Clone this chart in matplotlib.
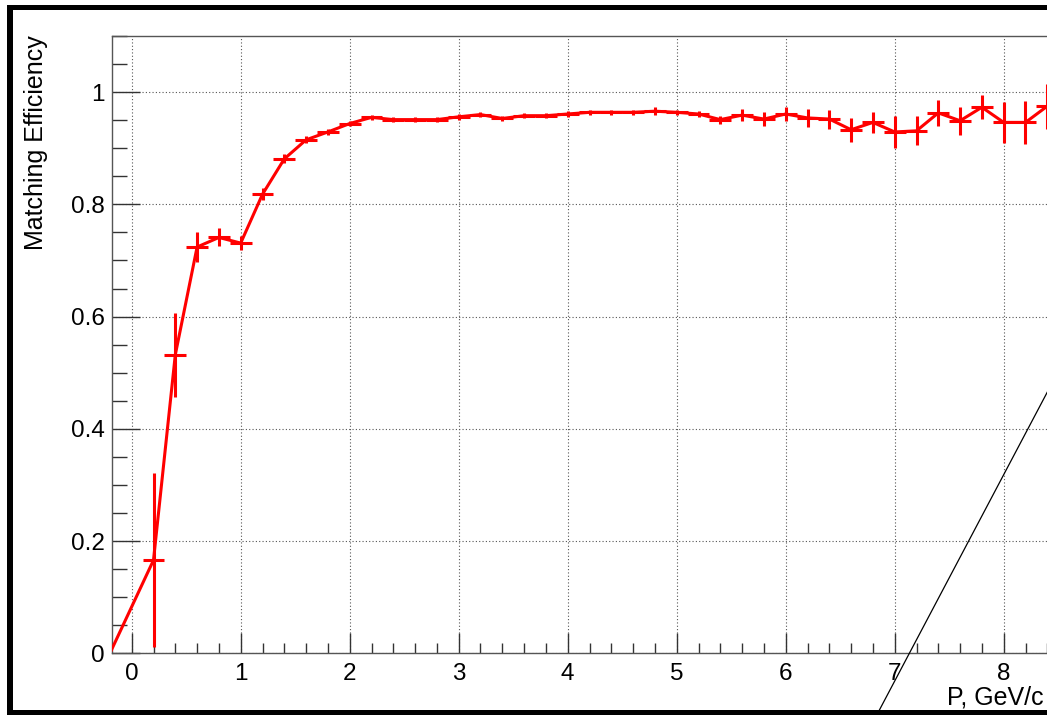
import matplotlib
matplotlib.use("Agg")
import matplotlib.pyplot as plt
from matplotlib.patches import Rectangle
from matplotlib.ticker import MultipleLocator

# Momentum bin centres (GeV/c) and matching efficiency per bin
momentum = [-0.2, 0.2, 0.4, 0.6, 0.8, 1.0, 1.2, 1.4, 1.6, 1.8, 2.0,
            2.2, 2.4, 2.6, 2.8, 3.0, 3.2, 3.4, 3.6, 3.8, 4.0,
            4.2, 4.4, 4.6, 4.8, 5.0, 5.2, 5.4, 5.6, 5.8, 6.0,
            6.2, 6.4, 6.6, 6.8, 7.0, 7.2, 7.4, 7.6, 7.8, 8.0,
            8.2, 8.4]
efficiency = [0.000, 0.166, 0.532, 0.724, 0.741, 0.731, 0.818, 0.881, 0.915, 0.929, 0.944,
              0.955, 0.951, 0.951, 0.951, 0.956, 0.960, 0.953, 0.958, 0.958, 0.961,
              0.964, 0.964, 0.964, 0.966, 0.964, 0.961, 0.951, 0.959, 0.952, 0.961,
              0.954, 0.952, 0.933, 0.946, 0.929, 0.931, 0.963, 0.949, 0.973, 0.946,
              0.946, 0.975]
eff_error = [0.000, 0.155, 0.075, 0.027, 0.016, 0.013, 0.011, 0.008, 0.006, 0.005, 0.005,
             0.005, 0.005, 0.005, 0.005, 0.005, 0.005, 0.005, 0.005, 0.005, 0.005,
             0.005, 0.005, 0.005, 0.007, 0.005, 0.006, 0.007, 0.011, 0.013, 0.012,
             0.016, 0.017, 0.021, 0.019, 0.028, 0.026, 0.023, 0.025, 0.021, 0.036,
             0.038, 0.040]
bin_half_width = 0.1

x_tick_values = [0, 1, 2, 3, 4, 5, 6, 7, 8]
y_tick_values = [0, 0.2, 0.4, 0.6, 0.8, 1.0]
y_tick_labels = ["0", "0.2", "0.4", "0.6", "0.8", "1"]

# Straight reference line (P, efficiency endpoints)
ref_line_p = [6.80, 8.60]
ref_line_eff = [-0.123, 0.539]

W, H = 1047, 715
fig = plt.figure(figsize=(W / 100, H / 100), dpi=100)
fig.patch.set_facecolor("white")

def fx(px):
    return px / W

def fy(py):
    return (H - py) / H

# Axes placed in pixel terms: left spine at x=112, bottom y=653.3, top y=36
x0_px, unit_px = 131.7, 109.0
xmin = (112 - x0_px) / unit_px
xmax = 9.0
right_px = x0_px + xmax * unit_px
ax = fig.add_axes([fx(112), fy(653.3), (right_px - 112) / W, (653.3 - 36) / H])
ax.set_xlim(xmin, xmax)
ax.set_ylim(0, 1.1)

font = "Liberation Sans"

ax.set_xticks(x_tick_values)
ax.set_xticklabels([str(v) for v in x_tick_values])
ax.xaxis.set_minor_locator(MultipleLocator(0.2))
ax.set_yticks(y_tick_values)
ax.set_yticklabels(y_tick_labels)
ax.yaxis.set_minor_locator(MultipleLocator(0.05))

ax.tick_params(axis="x", which="major", direction="in", length=14.4, width=1.0,
               pad=7, labelsize=17.5, top=False, color="#333333")
ax.tick_params(axis="x", which="minor", direction="in", length=7.2, width=1.0,
               top=False, color="#333333")
ax.tick_params(axis="y", which="major", direction="in", length=20.2, width=1.0,
               pad=5, labelsize=17.5, right=False, color="#333333")
ax.tick_params(axis="y", which="minor", direction="in", length=10.5, width=1.0,
               right=False, color="#333333")
for lab in ax.get_xticklabels() + ax.get_yticklabels():
    lab.set_fontfamily(font)

ax.grid(True, which="major", color="#555555", linestyle=(0, (1, 2)), linewidth=0.8)
for s in ["left", "bottom", "top", "right"]:
    ax.spines[s].set_color("#555555")
    ax.spines[s].set_linewidth(1.0)

# Efficiency curve with bin-width and statistical error bars
ax.plot(momentum, efficiency, color="red", linewidth=2.2, zorder=3)
ax.errorbar(momentum[1:], efficiency[1:], xerr=bin_half_width, yerr=eff_error[1:],
            fmt="none", ecolor="red", elinewidth=2.2, capsize=0, zorder=3)

ax.plot(ref_line_p, ref_line_eff, color="black", linewidth=0.9, clip_on=False, zorder=4)

fig.text(fx(36), fy(35), "Matching Efficiency", rotation=90, ha="center", va="top",
         fontsize=18, family=font)
fig.text(fx(1044), fy(704.3), "P, GeV/c", ha="right", va="baseline",
         fontsize=18, family=font)

# Thick canvas frame
frame_kw = dict(transform=fig.transFigure, facecolor="black", edgecolor="none", zorder=10)
fig.add_artist(Rectangle((fx(7), fy(715)), fx(6), (715 - 5) / H, **frame_kw))
fig.add_artist(Rectangle((fx(7), fy(10)), 1.0, 5 / H, **frame_kw))
fig.add_artist(Rectangle((fx(7), fy(715)), 1.0, 5.5 / H, **frame_kw))

fig.savefig("out.png", dpi=100, facecolor="white")
